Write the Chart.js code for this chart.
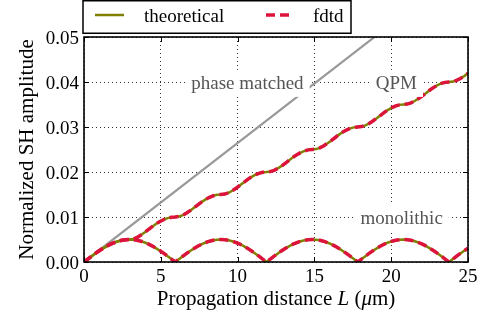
<!DOCTYPE html>
<html><head><meta charset="utf-8">
<script src="https://cdn.jsdelivr.net/npm/chart.js@4.4.1/dist/chart.umd.min.js"></script>
<style>html,body{margin:0;padding:0;background:#fff;}canvas{display:block;}</style>
</head><body>
<canvas id="c" width="498" height="317"></canvas>
<script>
// propagation distance L (µm)
const distance = [0,0.25,0.5,0.74,0.99,1.24,1.49,1.73,1.98,2.23,2.48,2.72,
2.97,3.22,3.47,3.71,3.96,4.21,4.46,4.70,4.95,5.20,5.45,5.69,
5.94,6.19,6.44,6.68,6.93,7.18,7.43,7.67,7.92,8.17,8.42,8.66,
8.91,9.16,9.41,9.65,9.90,10.15,10.40,10.64,10.89,11.14,11.39,11.63,
11.88,12.13,12.38,12.62,12.87,13.12,13.37,13.61,13.86,14.11,14.36,14.60,
14.85,15.10,15.35,15.59,15.84,16.09,16.34,16.58,16.83,17.08,17.33,17.57,
17.82,18.07,18.32,18.56,18.81,19.06,19.31,19.55,19.80,20.05,20.30,20.54,
20.79,21.04,21.29,21.53,21.78,22.03,22.28,22.52,22.77,23.02,23.27,23.51,
23.76,24.01,24.26,24.50,24.75,25.00];

const theoreticalQPM = [0,0.00065,0.00129,0.00191,0.0025,0.00304,0.00354,0.00397,0.00433,0.00462,0.00483,0.00496,
0.005,0.00513,0.00548,0.006,0.00661,0.00727,0.00791,0.0085,0.00901,0.00944,0.00975,0.00994,
0.01,0.01011,0.01041,0.01088,0.01146,0.0121,0.01275,0.01337,0.01392,0.01438,0.01472,0.01493,
0.015,0.0151,0.01539,0.01583,0.01639,0.01703,0.01768,0.01831,0.01888,0.01935,0.01971,0.01993,
0.02,0.0201,0.02037,0.02081,0.02136,0.02199,0.02264,0.02327,0.02385,0.02433,0.0247,0.02492,
0.025,0.02509,0.02537,0.02579,0.02634,0.02696,0.02761,0.02825,0.02883,0.02932,0.02969,0.02992,
0.03,0.03009,0.03036,0.03078,0.03133,0.03195,0.0326,0.03324,0.03382,0.03431,0.03469,0.03492,
0.035,0.03509,0.03536,0.03578,0.03632,0.03693,0.03758,0.03822,0.03881,0.03931,0.03969,0.03992,
0.04,0.04009,0.04035,0.04077,0.04131,0.04192];

const theoreticalMono = [0,0.00065,0.00129,0.00191,0.0025,0.00304,0.00354,0.00397,0.00433,0.00462,0.00483,0.00496,
0.005,0.00496,0.00483,0.00462,0.00433,0.00397,0.00354,0.00304,0.0025,0.00191,0.00129,0.00065,
0,0.00065,0.00129,0.00191,0.0025,0.00304,0.00354,0.00397,0.00433,0.00462,0.00483,0.00496,
0.005,0.00496,0.00483,0.00462,0.00433,0.00397,0.00354,0.00304,0.0025,0.00191,0.00129,0.00065,
0,0.00065,0.00129,0.00191,0.0025,0.00304,0.00354,0.00397,0.00433,0.00462,0.00483,0.00496,
0.005,0.00496,0.00483,0.00462,0.00433,0.00397,0.00354,0.00304,0.0025,0.00191,0.00129,0.00065,
0,0.00065,0.00129,0.00191,0.0025,0.00304,0.00354,0.00397,0.00433,0.00462,0.00483,0.00496,
0.005,0.00496,0.00483,0.00462,0.00433,0.00397,0.00354,0.00304,0.0025,0.00191,0.00129,0.00065,
0,0.00065,0.00129,0.00191,0.0025,0.00304];

// fdtd results coincide with theory in the picture
const fdtdQPM = theoreticalQPM.slice();
const fdtdMono = theoreticalMono.slice();

const phaseX = [0, 25];
const phaseY = [0, 0.0661];

const xTicks = [0, 5, 10, 15, 20, 25];
const xTickLabels = ['0', '5', '10', '15', '20', '25'];
const yTicks = [0, 0.01, 0.02, 0.03, 0.04, 0.05];
const yTickLabels = ['0.00', '0.01', '0.02', '0.03', '0.04', '0.05'];

const SERIF = '"Liberation Serif"';
const FONT = 'normal 21px ' + SERIF;      // the one face size that renders reliably
const FONT_IT = 'italic 21px ' + SERIF;
const SMALL = 19 / 21;                    // scale for 19px-looking text
const OLIVE = '#808000', CRIMSON = '#dc143c', GRAY = '#999999';

const pts = (xs, ys) => xs.map((x, i) => ({x, y: ys[i]}));

function smallText(ctx, t, px, py, align, base, color) {
  ctx.save();
  ctx.font = FONT;
  ctx.textAlign = align;
  ctx.textBaseline = base;
  ctx.fillStyle = color;
  ctx.translate(px, py);
  ctx.scale(SMALL, SMALL);
  ctx.fillText(t, 0, 0);
  ctx.restore();
}

const decor = {
  id: 'decor',
  afterDraw(chart) {
    const {ctx, chartArea: a, scales: {x, y}} = chart;
    ctx.save();
    // annotations with white boxes
    ctx.font = FONT;
    const notes = [['phase matched', 10.64, 0.0398], ['QPM', 20.34, 0.0398], ['monolithic', 20.68, 0.0098]];
    notes.forEach(([t, vx, vy]) => {
      const px = x.getPixelForValue(vx), py = y.getPixelForValue(vy);
      ctx.font = FONT;
      const w = ctx.measureText(t).width * SMALL;
      ctx.fillStyle = '#fff';
      ctx.fillRect(px - w / 2 - 6, py - 13, w + 12, 27);
      smallText(ctx, t, px, py + 1, 'center', 'middle', '#555');
    });
    // frame and inward ticks
    ctx.setLineDash([]);
    ctx.strokeStyle = '#000';
    ctx.lineWidth = 1;
    ctx.beginPath();
    x.ticks.forEach(t => {
      const p = Math.round(x.getPixelForValue(t.value)) + 0.5;
      ctx.moveTo(p, a.bottom); ctx.lineTo(p, a.bottom - 5);
      ctx.moveTo(p, a.top); ctx.lineTo(p, a.top + 5);
    });
    y.ticks.forEach(t => {
      const p = Math.round(y.getPixelForValue(t.value)) + 0.5;
      ctx.moveTo(a.left, p); ctx.lineTo(a.left + 5, p);
      ctx.moveTo(a.right, p); ctx.lineTo(a.right - 5, p);
    });
    ctx.stroke();
    ctx.lineWidth = 1.6;
    ctx.strokeRect(a.left, a.top, a.right - a.left, a.bottom - a.top);

    // tick labels
    xTicks.forEach((v, i) => smallText(ctx, xTickLabels[i], x.getPixelForValue(v), a.bottom + 19.5, 'center', 'alphabetic', '#000'));
    yTicks.forEach((v, i) => smallText(ctx, yTickLabels[i], a.left - 5, y.getPixelForValue(v) + 6.5, 'right', 'alphabetic', '#000'));

    // legend
    const ds = chart.data.datasets;
    ctx.lineWidth = 1.5;
    ctx.strokeStyle = '#000';
    ctx.fillStyle = '#fff';
    ctx.fillRect(83, 0.75, 268, 32.5);
    ctx.strokeRect(83, 0.75, 268, 32.5);
    ctx.lineCap = 'butt';
    ctx.strokeStyle = ds[2].borderColor; ctx.lineWidth = ds[2].borderWidth;
    ctx.beginPath(); ctx.moveTo(95, 15); ctx.lineTo(124, 15); ctx.stroke();
    ctx.strokeStyle = ds[0].borderColor; ctx.lineWidth = ds[0].borderWidth;
    ctx.setLineDash(ds[0].borderDash);
    ctx.beginPath(); ctx.moveTo(266, 15); ctx.lineTo(290, 15); ctx.stroke();
    ctx.setLineDash([]);
    smallText(ctx, ds[2].label, 144, 21.5, 'left', 'alphabetic', '#000');
    smallText(ctx, ds[0].label, 313, 21.5, 'left', 'alphabetic', '#000');

    // x axis title with italic symbols
    const parts = [['Propagation distance ', FONT], ['L', FONT_IT], [' (', FONT], ['\u03BC', FONT_IT], ['m)', FONT]];
    ctx.fillStyle = '#000';
    ctx.textAlign = 'left';
    ctx.textBaseline = 'alphabetic';
    let total = 0;
    parts.forEach(([t, f]) => { ctx.font = f; total += ctx.measureText(t).width; });
    let cx = (a.left + a.right) / 2 - total / 2;
    parts.forEach(([t, f]) => {
      ctx.font = f;
      ctx.fillText(t, cx, 305);
      cx += ctx.measureText(t).width;
    });
    ctx.restore();
  }
};

const chart = new Chart(document.getElementById('c').getContext('2d'), {
  type: 'line',
  data: {
    datasets: [
      {label: 'fdtd', data: pts(distance, fdtdQPM), borderColor: CRIMSON, borderWidth: 3.5, borderDash: [9, 5], pointRadius: 0, tension: 0, fill: false, order: 0},
      {label: 'fdtd', data: pts(distance, fdtdMono), borderColor: CRIMSON, borderWidth: 3.5, borderDash: [9, 5], pointRadius: 0, tension: 0, fill: false, order: 0},
      {label: 'theoretical', data: pts(distance, theoreticalQPM), borderColor: OLIVE, borderWidth: 2.5, pointRadius: 0, tension: 0, fill: false, order: 1},
      {label: 'theoretical', data: pts(distance, theoreticalMono), borderColor: OLIVE, borderWidth: 2.5, pointRadius: 0, tension: 0, fill: false, order: 1},
      {label: 'phase matched', data: pts(phaseX, phaseY), borderColor: GRAY, borderWidth: 2.2, pointRadius: 0, tension: 0, fill: false, order: 2}
    ]
  },
  options: {
    responsive: false,
    animation: false,
    devicePixelRatio: 1,
    font: {family: SERIF, size: 21},
    layout: {padding: {top: 37, right: 30, left: 0, bottom: 0}},
    plugins: {legend: {display: false}, tooltip: {enabled: false}},
    scales: {
      x: {
        type: 'linear', min: 0, max: 25,
        afterBuildTicks: s => { s.ticks = xTicks.map(v => ({value: v})); },
        afterFit: s => { s.height = 55; },
        grid: {color: '#333', lineWidth: 1, drawTicks: false},
        border: {display: false, dash: [1, 3]},
        ticks: {display: false}
      },
      y: {
        type: 'linear', min: 0, max: 0.05,
        afterBuildTicks: s => { s.ticks = yTicks.map(v => ({value: v})); },
        afterFit: s => { s.width = 84; },
        grid: {color: '#333', lineWidth: 1, drawTicks: false},
        border: {display: false, dash: [1, 3]},
        ticks: {display: false},
        title: {display: true, text: 'Normalized SH amplitude', color: '#000',
                font: {family: SERIF, size: 21}, padding: {top: 15, bottom: 0}}
      }
    }
  },
  plugins: [decor]
});
</script>
</body></html>
